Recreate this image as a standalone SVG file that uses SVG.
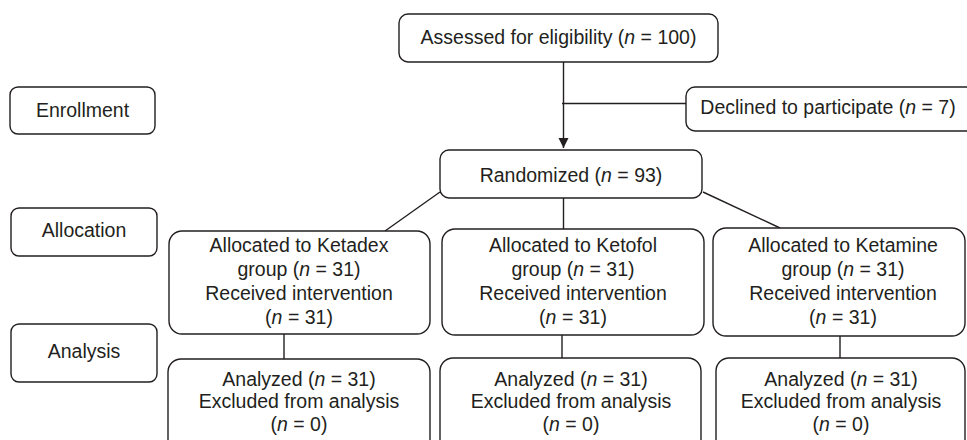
<svg xmlns="http://www.w3.org/2000/svg" width="967" height="440" viewBox="0 0 967 440">
<style>
.b{fill:#fff;stroke:#231f20;stroke-width:1.4}
.t{font-family:"Liberation Sans",Arial,sans-serif;font-size:19.5px;fill:#231f20;text-anchor:middle}
.c{stroke:#231f20;stroke-width:1.4;fill:none}
</style>
<defs>
<marker id="ah" viewBox="0 0 10 10" refX="10" refY="5" markerWidth="10" markerHeight="11" markerUnits="userSpaceOnUse" orient="auto">
<path d="M0,0 L10,5 L0,10 z" fill="#231f20"/>
</marker>
</defs>
<rect width="967" height="440" fill="#fff"/>
<g id="connectors">
<line class="c" x1="563.5" y1="62" x2="563.5" y2="148" marker-end="url(#ah)"/>
<line class="c" x1="562" y1="103.5" x2="686" y2="103.5"/>
<line class="c" x1="563.5" y1="198" x2="563.5" y2="229"/>
<line class="c" x1="440" y1="192" x2="385" y2="231"/>
<line class="c" x1="703" y1="192" x2="780" y2="228"/>
<line class="c" x1="284" y1="334" x2="284" y2="359"/>
<line class="c" x1="562" y1="335" x2="562" y2="358"/>
<line class="c" x1="840" y1="336" x2="840" y2="358"/>
</g>
<g id="enrollment"><rect class="b" x="10" y="87" width="145" height="47" rx="8"/><text class="t" x="82.5" y="117">Enrollment</text></g>
<g id="allocation"><rect class="b" x="11" y="208" width="146" height="48" rx="8"/><text class="t" x="84" y="237">Allocation</text></g>
<g id="analysis"><rect class="b" x="11" y="324" width="146" height="58" rx="8"/><text class="t" x="84" y="358">Analysis</text></g>
<g id="assessed"><rect class="b" x="399" y="14" width="319" height="48" rx="9"/><text class="t" x="558.5" y="43.5">Assessed for eligibility (<tspan font-style="italic">n</tspan> = 100)</text></g>
<g id="declined"><rect class="b" x="686" y="87" width="300" height="44" rx="9"/><text class="t" x="828" y="114">Declined to participate (<tspan font-style="italic">n</tspan> = 7)</text></g>
<g id="randomized"><rect class="b" x="440" y="150" width="262" height="48" rx="9"/><text class="t" x="571" y="181.5">Randomized (<tspan font-style="italic">n</tspan> = 93)</text></g>
<g id="ketadex"><rect class="b" x="169" y="231" width="261" height="103" rx="13"/>
<text class="t" x="299" y="251.5">Allocated to Ketadex</text>
<text class="t" x="299" y="275.5">group (<tspan font-style="italic">n</tspan> = 31)</text>
<text class="t" x="299" y="299.5">Received intervention</text>
<text class="t" x="299" y="323.5">(<tspan font-style="italic">n</tspan> = 31)</text></g>
<g id="ketofol"><rect class="b" x="442" y="229" width="262" height="106" rx="13"/>
<text class="t" x="573" y="251.5">Allocated to Ketofol</text>
<text class="t" x="573" y="275.5">group (<tspan font-style="italic">n</tspan> = 31)</text>
<text class="t" x="573" y="299.5">Received intervention</text>
<text class="t" x="573" y="323.5">(<tspan font-style="italic">n</tspan> = 31)</text></g>
<g id="ketamine"><rect class="b" x="713" y="228" width="252" height="108" rx="13"/>
<text class="t" x="843" y="251.5">Allocated to Ketamine</text>
<text class="t" x="843" y="275.5">group (<tspan font-style="italic">n</tspan> = 31)</text>
<text class="t" x="843" y="299.5">Received intervention</text>
<text class="t" x="843" y="323.5">(<tspan font-style="italic">n</tspan> = 31)</text></g>
<g id="analyzed-ketadex"><rect class="b" x="168" y="359" width="262" height="100" rx="13"/>
<text class="t" x="299" y="385.5">Analyzed (<tspan font-style="italic">n</tspan> = 31)</text>
<text class="t" x="299" y="408">Excluded from analysis</text>
<text class="t" x="299" y="430.5">(<tspan font-style="italic">n</tspan> = 0)</text></g>
<g id="analyzed-ketofol"><rect class="b" x="440" y="358" width="261" height="100" rx="13"/>
<text class="t" x="571" y="385.5">Analyzed (<tspan font-style="italic">n</tspan> = 31)</text>
<text class="t" x="571" y="408">Excluded from analysis</text>
<text class="t" x="571" y="430.5">(<tspan font-style="italic">n</tspan> = 0)</text></g>
<g id="analyzed-ketamine"><rect class="b" x="716" y="358" width="249" height="100" rx="13"/>
<text class="t" x="841" y="385.5">Analyzed (<tspan font-style="italic">n</tspan> = 31)</text>
<text class="t" x="841" y="408">Excluded from analysis</text>
<text class="t" x="841" y="430.5">(<tspan font-style="italic">n</tspan> = 0)</text></g>
</svg>
